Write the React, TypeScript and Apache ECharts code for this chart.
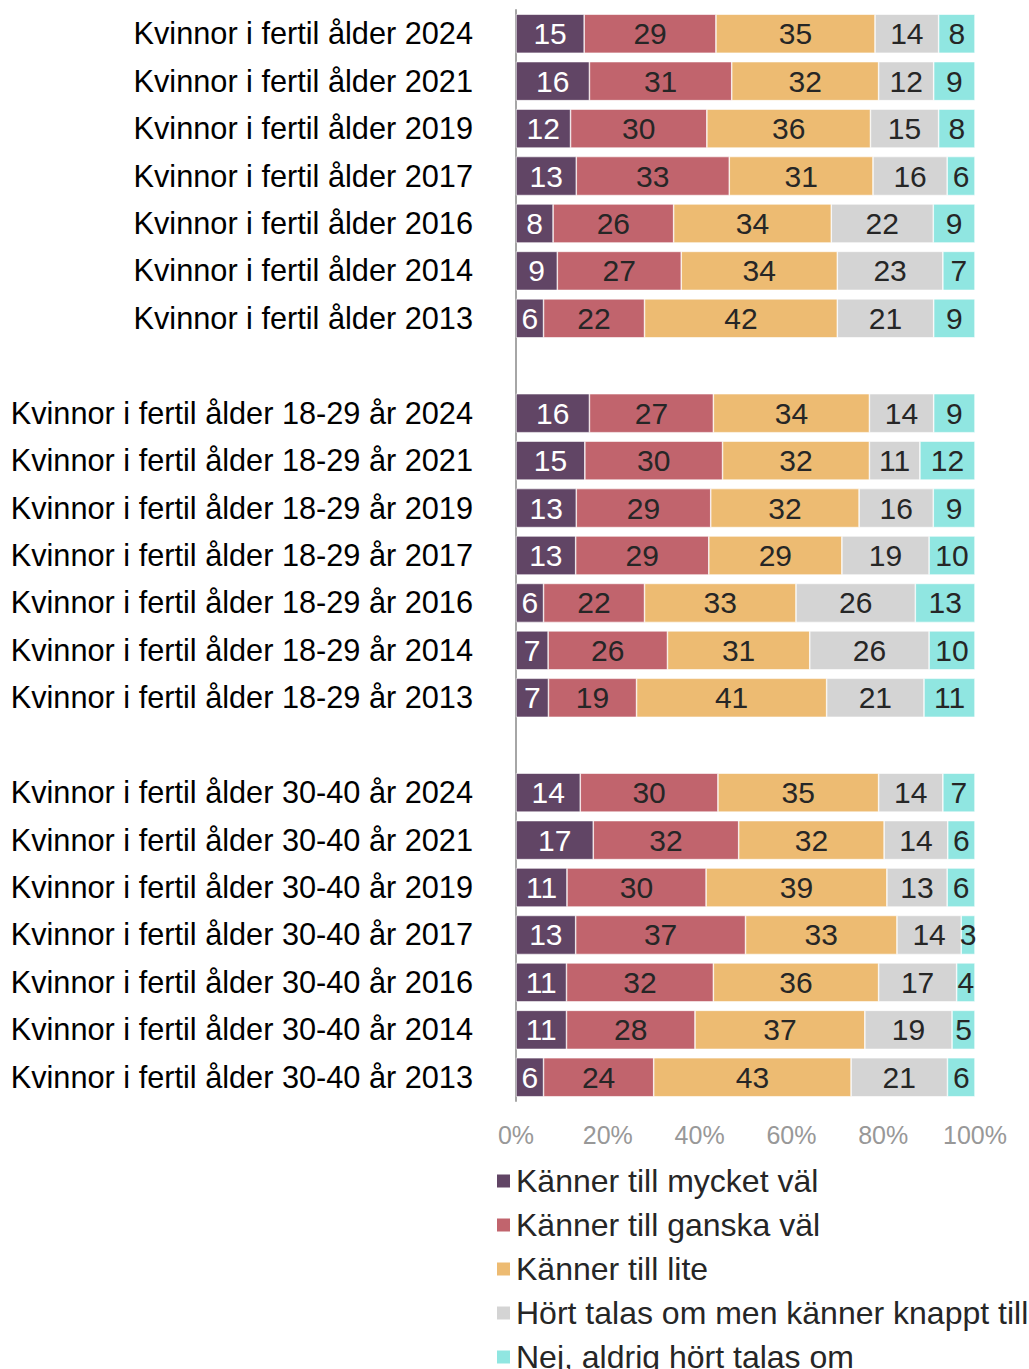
import React, { useEffect, useRef } from "react";
import * as echarts from "echarts";

const categories = [
  "Kvinnor i fertil ålder 2024",
  "Kvinnor i fertil ålder 2021",
  "Kvinnor i fertil ålder 2019",
  "Kvinnor i fertil ålder 2017",
  "Kvinnor i fertil ålder 2016",
  "Kvinnor i fertil ålder 2014",
  "Kvinnor i fertil ålder 2013",
  "",
  "Kvinnor i fertil ålder 18-29 år 2024",
  "Kvinnor i fertil ålder 18-29 år 2021",
  "Kvinnor i fertil ålder 18-29 år 2019",
  "Kvinnor i fertil ålder 18-29 år 2017",
  "Kvinnor i fertil ålder 18-29 år 2016",
  "Kvinnor i fertil ålder 18-29 år 2014",
  "Kvinnor i fertil ålder 18-29 år 2013",
  " ",
  "Kvinnor i fertil ålder 30-40 år 2024",
  "Kvinnor i fertil ålder 30-40 år 2021",
  "Kvinnor i fertil ålder 30-40 år 2019",
  "Kvinnor i fertil ålder 30-40 år 2017",
  "Kvinnor i fertil ålder 30-40 år 2016",
  "Kvinnor i fertil ålder 30-40 år 2014",
  "Kvinnor i fertil ålder 30-40 år 2013",
];

const seriesNames = [
  "Känner till mycket väl",
  "Känner till ganska väl",
  "Känner till lite",
  "Hört talas om men känner knappt till",
  "Nej, aldrig hört talas om",
];

const mycketVal = [15, 16, 12, 13, 8, 9, 6, null, 16, 15, 13, 13, 6, 7, 7, null, 14, 17, 11, 13, 11, 11, 6];
const ganskaVal = [29, 31, 30, 33, 26, 27, 22, null, 27, 30, 29, 29, 22, 26, 19, null, 30, 32, 30, 37, 32, 28, 24];
const lite = [35, 32, 36, 31, 34, 34, 42, null, 34, 32, 32, 29, 33, 31, 41, null, 35, 32, 39, 33, 36, 37, 43];
const knappt = [14, 12, 15, 16, 22, 23, 21, null, 14, 11, 16, 19, 26, 26, 21, null, 14, 14, 13, 14, 17, 19, 21];
const aldrig = [8, 9, 8, 6, 9, 7, 9, null, 9, 12, 9, 10, 13, 10, 11, null, 7, 6, 6, 3, 4, 5, 6];

const xTicks = [0, 20, 40, 60, 80, 100];

const colors = ["#614565", "#c1646d", "#edbb72", "#d4d4d4", "#90e6e1"];
const labelColors = ["#ffffff", "#262626", "#262626", "#262626", "#262626"];

const FONT = "'Liberation Sans', Arial, sans-serif";

export default function App() {
  const ref = useRef<HTMLDivElement>(null);
  useEffect(() => {
    if (!ref.current) return;
    const chart = echarts.init(ref.current, null, { renderer: "svg" });
    const raw = [mycketVal, ganskaVal, lite, knappt, aldrig];
    const totals = categories.map((_, i) =>
      raw.reduce((s, arr) => s + (arr[i] == null ? 0 : (arr[i] as number)), 0)
    );
    const series = raw.map((arr, si) => ({
      name: seriesNames[si],
      type: "bar",
      stack: "total",
      barWidth: 39,
      itemStyle: { color: colors[si], borderColor: "#ffffff", borderWidth: 0.6 },
      label: {
        show: true,
        position: "inside",
        color: labelColors[si],
        fontSize: 30,
        fontFamily: FONT,
        formatter: (p: any) => String(arr[p.dataIndex]),
      },
      data: arr.map((v, i) => (v == null ? null : (v / totals[i]) * 100)),
    }));
    chart.setOption({
      animation: false,
      textStyle: { fontFamily: FONT },
      grid: { left: 516, right: 54, top: 10, bottom: 268, containLabel: false },
      xAxis: {
        type: "value",
        min: 0,
        max: 100,
        interval: 20,
        axisLine: { show: false },
        axisTick: { show: false },
        splitLine: { show: false },
        axisLabel: {
          margin: 21,
          fontSize: 25,
          color: "#989898",
          fontFamily: FONT,
          formatter: (v: number) => (xTicks.includes(v) ? v + "%" : ""),
        },
      },
      yAxis: {
        type: "category",
        inverse: true,
        data: categories,
        axisLine: { show: true, lineStyle: { color: "#a6a6a6", width: 2 } },
        axisTick: { show: false },
        axisLabel: {
          margin: 43,
          fontSize: 30.7,
          color: "#000000",
          fontFamily: FONT,
        },
      },
      legend: {
        orient: "vertical",
        left: 495,
        top: 1165,
        height: 300,
        padding: 0,
        itemWidth: 15,
        itemHeight: 15,
        itemGap: 12,
        icon: "rect",
        data: seriesNames,
        textStyle: { fontSize: 32, lineHeight: 30, color: "#262626", fontFamily: FONT },
      },
      series,
    });
    return () => chart.dispose();
  }, []);
  return (
    <div
      ref={ref}
      style={{ position: "absolute", left: 0, top: 0, width: 1029, height: 1369 }}
    />
  );
}
